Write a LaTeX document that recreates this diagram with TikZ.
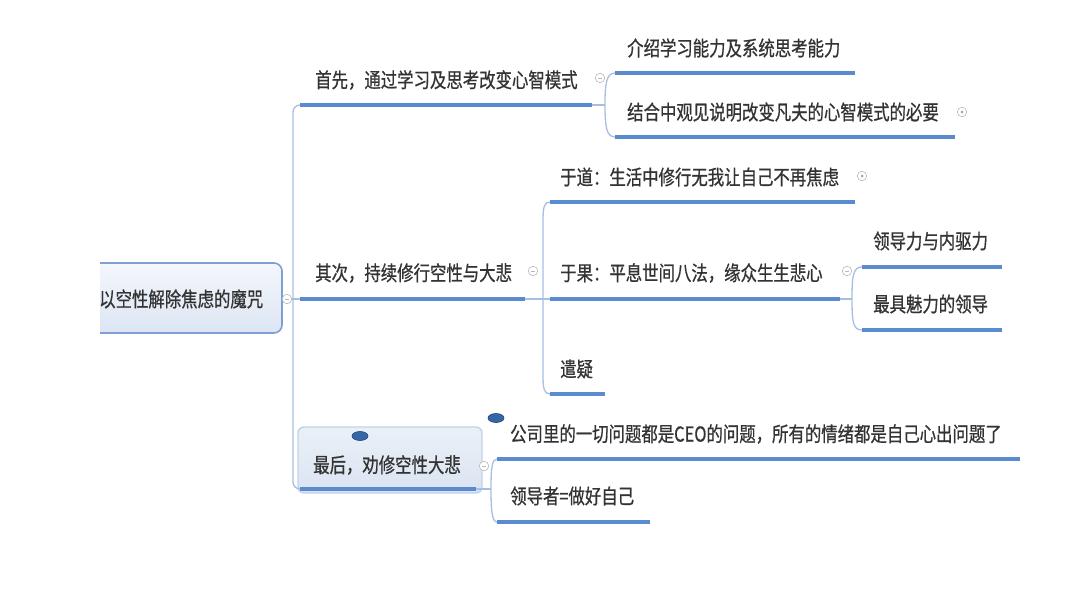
\documentclass[tikz,border=0pt]{standalone}
\usepackage{fontspec}
\usetikzlibrary{shapes.geometric}
\newfontfamily\cjk[FakeBold=0.7,FakeStretch=0.8]{Noto Sans CJK SC}
\definecolor{ulc}{HTML}{5B8BCF}
\definecolor{cnc}{HTML}{A6BFE1}
\definecolor{txc}{HTML}{333333}
\definecolor{boxb}{HTML}{7FA0D2}
\definecolor{boxb2}{HTML}{C2D3E8}
\definecolor{rtop}{HTML}{F4F7FC}
\definecolor{rbot}{HTML}{DCE5F3}
\definecolor{btop}{HTML}{EAF0F8}
\definecolor{bbot}{HTML}{DAE4F1}
\definecolor{ovf}{HTML}{3566A6}
\definecolor{ovd}{HTML}{1F4478}
\begin{document}
\begin{tikzpicture}[x=1pt,y=-1pt,
  topic/.style={anchor=west, inner sep=0pt, font=\cjk\fontsize{20.5}{22}\selectfont, text=txc},
  ul/.style={draw=ulc, line width=3.6pt},
  cn/.style={draw=cnc, line width=1.3pt},
  tog/.style={circle, draw=gray!55, fill=white, minimum size=9.5pt, inner sep=0pt, line width=0.6pt},
  ovl/.style={ellipse, draw=ovd, fill=ovf, minimum width=16pt, minimum height=9pt, inner sep=0pt, line width=0.6pt}
]
\useasboundingbox[fill=white] (0,0) rectangle (1080,608);

% ---------- root ----------
\begin{scope}
\clip (100,250) rectangle (300,345);
\draw[draw=boxb, line width=1.6pt, rounded corners=8pt, top color=rtop, bottom color=rbot] (60,263) rectangle (282,333);
\node[topic] (root) at (99,299) {以空性解除焦虑的魔咒};
\end{scope}
\node[tog] (rtog) at (287,299) {};
\draw[gray!55, line width=0.6pt] ([xshift=-2.2pt]rtog.center) -- ([xshift=2.2pt]rtog.center);

% ---------- level 1 ----------
\node[topic] (n1) at (315,80) {首先，通过学习及思考改变心智模式};
\coordinate (n1s) at (300,105); \coordinate (n1e) at (592,105);
\node[topic] (n2) at (315,273) {其次，持续修行空性与大悲};
\coordinate (n2s) at (300,299); \coordinate (n2e) at (525,299);

% node 3 box
\draw[draw=boxb2, line width=1.4pt, rounded corners=6pt, top color=btop, bottom color=bbot] (298,427) rectangle (482,493);
\node[topic] (n3) at (313,465) {最后，劝修空性大悲};
\coordinate (n3s) at (300,489); \coordinate (n3e) at (476,489);
\node[ovl] (ov1) at (360,436) {};

% trunk
\draw[cn, rounded corners=7pt] (n1s) -- (293,105) -- (293,489) -- (n3s);
\draw[cn] (rtog) -- (n2s);

\draw[ul] (n1s) -- (n1e);
\draw[ul] (n2s) -- (n2e);
\draw[ul] (n3s) -- (n3e);

% ---------- children of n1 ----------
\node[topic] (c11) at (627,48) {介绍学习能力及系统思考能力};
\coordinate (c11s) at (615,73); \coordinate (c11e) at (855,73);
\node[topic] (c12) at (627,112) {结合中观见说明改变凡夫的心智模式的必要};
\coordinate (c12s) at (615,137); \coordinate (c12e) at (955,137);
\coordinate (j1) at (605,105);
\draw[cn] (n1e) -- (j1);
\draw[cn] (c11s) .. controls (606,73) and (605,85) .. (j1) .. controls (605,125) and (606,137) .. (c12s);
\draw[ul] (c11s) -- (c11e);
\draw[ul] (c12s) -- (c12e);
\node[tog] (t1) at (600,78) {};
\draw[gray!55, line width=0.6pt] ([xshift=-2.2pt]t1.center) -- ([xshift=2.2pt]t1.center);
\node[tog] (t12) at (962,112) {};
\fill[gray!70] (t12.center) circle (1.5pt);

% ---------- children of n2 ----------
\node[topic] (c21) at (560,177) {于道：生活中修行无我让自己不再焦虑};
\coordinate (c21s) at (550,202); \coordinate (c21e) at (855,202);
\node[topic] (c22) at (560,273) {于果：平息世间八法，缘众生生悲心};
\coordinate (c22s) at (550,299); \coordinate (c22e) at (840,299);
\node[topic] (c23) at (560,369) {遣疑};
\coordinate (c23s) at (550,394); \coordinate (c23e) at (605,394);
\draw[cn] (n2e) -- (c22s);
\draw[cn] (c21s) .. controls (544,202) and (543,208) .. (543,220) -- (543,376) .. controls (543,388) and (544,394) .. (c23s);
\draw[ul] (c21s) -- (c21e);
\draw[ul] (c22s) -- (c22e);
\draw[ul] (c23s) -- (c23e);
\node[tog] (t2) at (533,271) {};
\draw[gray!55, line width=0.6pt] ([xshift=-2.2pt]t2.center) -- ([xshift=2.2pt]t2.center);
\node[tog] (t21) at (862,176) {};
\fill[gray!70] (t21.center) circle (1.5pt);

% ---------- children of c22 ----------
\node[topic] (c221) at (873,241) {领导力与内驱力};
\coordinate (c221s) at (862,267); \coordinate (c221e) at (1002,267);
\node[topic] (c222) at (873,304) {最具魅力的领导};
\coordinate (c222s) at (862,330); \coordinate (c222e) at (1002,330);
\coordinate (j22) at (852,299);
\draw[cn] (c22e) -- (j22);
\draw[cn] (c221s) .. controls (853,267) and (852,276) .. (j22) .. controls (852,322) and (853,330) .. (c222s);
\draw[ul] (c221s) -- (c221e);
\draw[ul] (c222s) -- (c222e);
\node[tog] (t22) at (847,271) {};
\draw[gray!55, line width=0.6pt] ([xshift=-2.2pt]t22.center) -- ([xshift=2.2pt]t22.center);

% ---------- children of n3 ----------
\node[topic] (c31) at (510,434) {公司里的一切问题都是CEO的问题，所有的情绪都是自己心出问题了};
\coordinate (c31s) at (497,459); \coordinate (c31e) at (1020,459);
\node[topic] (c32) at (510,496) {领导者=做好自己};
\coordinate (c32s) at (497,522); \coordinate (c32e) at (650,522);
\coordinate (j3) at (491,489);
\draw[cn] (n3e) -- (j3);
\draw[cn] (c31s) .. controls (492,459) and (491,468) .. (j3) .. controls (491,510) and (492,522) .. (c32s);
\draw[ul] (c31s) -- (c31e);
\draw[ul] (c32s) -- (c32e);
\node[tog] (t3) at (484,466) {};
\draw[gray!55, line width=0.6pt] ([xshift=-2.2pt]t3.center) -- ([xshift=2.2pt]t3.center);
\node[ovl] (ov2) at (496,418) {};
\end{tikzpicture}
\end{document}
